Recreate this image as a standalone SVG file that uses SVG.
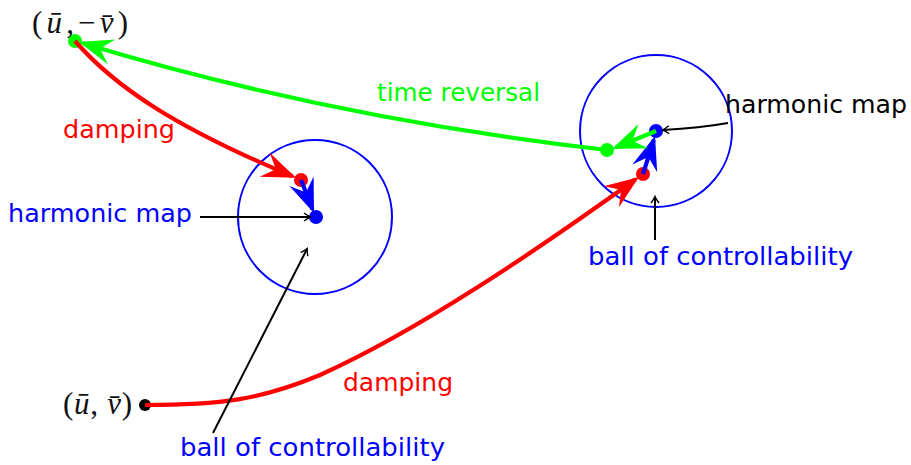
<svg xmlns="http://www.w3.org/2000/svg" width="911" height="465" viewBox="0 0 911 465">
<style>
.lbl{font-family:"DejaVu Sans","Open Sans",sans-serif;font-size:25px}
.math{font-family:"Liberation Serif","DejaVu Serif",serif;font-size:31px;fill:#111}
.it{font-style:italic}
.ball{fill:none;stroke:#0000ff;stroke-width:2}
.ptr{fill:none;stroke:#000;stroke-width:2}
.thick{fill:none;stroke-width:4.2;stroke-linecap:butt}
</style>
<defs>
<marker id="hr" markerUnits="userSpaceOnUse" viewBox="-34 -14 40 28" refX="0" refY="0" markerWidth="40" markerHeight="28" orient="auto" overflow="visible"><path d="M4,0 L-30,-13 L-18,0 L-30,13 Z" fill="#ff0000"/></marker>
<marker id="hb" markerUnits="userSpaceOnUse" viewBox="-34 -14 40 28" refX="0" refY="0" markerWidth="40" markerHeight="28" orient="auto" overflow="visible"><path d="M4,0 L-30,-13 L-18,0 L-30,13 Z" fill="#0000ff"/></marker>
<marker id="hg" markerUnits="userSpaceOnUse" viewBox="-34 -14 40 28" refX="0" refY="0" markerWidth="40" markerHeight="28" orient="auto" overflow="visible"><path d="M4,0 L-30,-13 L-18,0 L-30,13 Z" fill="#00ff00"/></marker>
<marker id="hk" markerUnits="userSpaceOnUse" viewBox="-8 -6 10 12" refX="0" refY="0" markerWidth="10" markerHeight="12" orient="auto" overflow="visible"><path d="M-6,-4 Q-2,-1 0.5,0 Q-2,1 -6,4" fill="none" stroke="#000" stroke-width="1.4"/></marker>
</defs>

<g id="ball1"><circle class="ball" cx="315" cy="217" r="77"/></g>
<g id="ball2"><circle class="ball" cx="656" cy="131" r="76"/></g>

<g id="start">
<circle cx="145" cy="405" r="6" fill="#000"/>
<text class="math" x="63" y="414" textLength="69" lengthAdjust="spacing">(<tspan class="it">ū</tspan>, <tspan class="it">v̄</tspan>)</text>
</g>
<g id="reversed">
<circle cx="75" cy="41" r="7" fill="#00ff00"/>
<text class="math" x="32" y="33" textLength="96" lengthAdjust="spacing">(<tspan class="it">ū</tspan>,−<tspan class="it">v̄</tspan>)</text>
</g>
<g id="p1red"><circle cx="301" cy="180" r="7" fill="#ff0000"/></g>
<g id="p1blue"><circle cx="316" cy="217" r="7" fill="#0000ff"/></g>
<g id="p2red"><circle cx="643" cy="174" r="7" fill="#ff0000"/></g>
<g id="p2blue"><circle cx="656" cy="131" r="7" fill="#0000ff"/></g>
<g id="p2green"><circle cx="607" cy="150" r="7" fill="#00ff00"/></g>

<g id="connectors">
<path class="thick" stroke="#ff0000" d="M75,41 C115,87 175,127 292.4,176.3" marker-end="url(#hr)"/>
<path class="thick" stroke="#0000ff" d="M301,180 L312.5,209.3" marker-end="url(#hb)"/>
<path class="thick" stroke="#ff0000" d="M145,405 C220,405 260,400 320,375 C420,330 540,248 635.7,179.3" marker-end="url(#hr)"/>
<path class="thick" stroke="#0000ff" d="M643,174 L653.8,139.8" marker-end="url(#hb)"/>
<path class="thick" stroke="#00ff00" d="M656,131 L615.7,147.5" marker-end="url(#hg)"/>
<path class="thick" stroke="#00ff00" d="M607,150 Q330,118 82.8,43.2" marker-end="url(#hg)"/>
<path class="ptr" d="M200,217 L310,217" marker-end="url(#hk)"/>
<path class="ptr" d="M213,433 L307,249" marker-end="url(#hk)"/>
<path class="ptr" d="M728,123 Q700,128 663,130" marker-end="url(#hk)"/>
<path class="ptr" d="M655,240 L655,197" marker-end="url(#hk)"/>
</g>

<g id="labels">
<text class="lbl" x="63" y="138" fill="#ff0000" textLength="112" lengthAdjust="spacingAndGlyphs">damping</text>
<text class="lbl" x="343" y="391" fill="#ff0000" textLength="110" lengthAdjust="spacingAndGlyphs">damping</text>
<text class="lbl" x="377" y="101" fill="#00ff00" textLength="163" lengthAdjust="spacingAndGlyphs">time reversal</text>
<text class="lbl" x="8" y="222" fill="#0000ff" textLength="184" lengthAdjust="spacingAndGlyphs">harmonic map</text>
<text class="lbl" x="725" y="113" fill="#000" textLength="182" lengthAdjust="spacingAndGlyphs">harmonic map</text>
<text class="lbl" x="588" y="265" fill="#0000ff" textLength="265" lengthAdjust="spacingAndGlyphs">ball of controllability</text>
<text class="lbl" x="180" y="456" fill="#0000ff" textLength="265" lengthAdjust="spacingAndGlyphs">ball of controllability</text>
</g>
</svg>
